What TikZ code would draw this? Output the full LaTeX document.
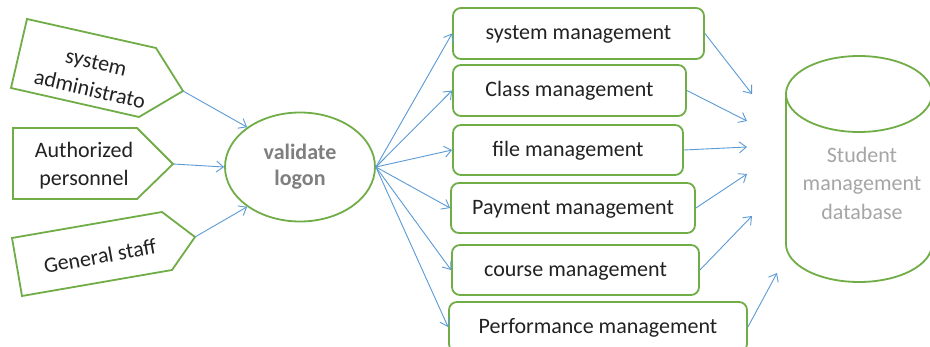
\documentclass[tikz,border=0pt]{standalone}
\usepackage{fontspec}
\setmainfont{Carlito}
\usetikzlibrary{arrows.meta,shapes.geometric}
\definecolor{offgreen}{HTML}{70AD47}
\definecolor{offblue}{HTML}{5B9BD5}
\definecolor{txtdark}{HTML}{222222}
\definecolor{txtgray}{HTML}{7F7F7F}
\definecolor{txtlight}{HTML}{A6A6A6}
\begin{document}
\begin{tikzpicture}[x=1pt,y=-1pt,
  greenline/.style={draw=offgreen,line width=1.8pt,line join=miter},
  modbox/.style={greenline,rounded corners=8pt,inner sep=0pt,fill=white,
     text=txtdark,font=\fontsize{22}{27}\selectfont,text height=16.5pt,text depth=4pt},
  lbl/.style={inner sep=0pt,align=center,text=txtdark,font=\fontsize{22}{28}\selectfont},
  conn/.style={draw=offblue,line width=0.9pt,-{Straight Barb[length=7pt,width=11pt]}}]
\useasboundingbox (0,0) rectangle (930,347);
\clip (0,0) rectangle (930,347);
\fill[white] (0,0) rectangle (930,347);

% left pentagons
\draw[greenline] (27,19) -- (156,48) -- (183,91) coordinate (p1) -- (139,117) -- (11,88) -- cycle;
\node[lbl,rotate=-13] (t1) at (93,76) {system\\administrato};
\draw[greenline] (13,128) -- (137,128) -- (173,164) coordinate (p2) -- (137,199) -- (13,199) -- cycle;
\node[lbl] (t2) at (84,166) {Authorized\\personnel};
\draw[greenline] (12,238) -- (162,212) -- (195,237) coordinate (p3) -- (172,270) -- (22,296) -- cycle;
\node[lbl,rotate=10] (t3) at (100,256) {General staff};

% ellipse
\node[ellipse,greenline,minimum width=150pt,minimum height=109pt,inner sep=0pt,
  text=txtgray,align=center,font=\bfseries\fontsize{22}{26}\selectfont] (val) at (300,167) {validate\\logon};

% module boxes
\node[modbox,minimum width=251pt,minimum height=51pt] (b1) at (578.5,33.5) {system management};
\node[modbox,minimum width=233pt,minimum height=51pt] (b2) at (569.5,90.5) {Class management};
\node[modbox,minimum width=230pt,minimum height=50pt] (b3) at (568,150) {file management};
\node[modbox,minimum width=244pt,minimum height=50pt] (b4) at (573,208) {Payment management};
\node[modbox,minimum width=247pt,minimum height=50pt] (b5) at (575.5,270) {course management};
\node[modbox,minimum width=298pt,minimum height=50pt] (b6) at (598,327) {Performance management};

% database cylinder
\draw[greenline] (786,94) -- (786,244) arc[start angle=180,end angle=360,x radius=73pt,y radius=38pt] -- (932,94);
\draw[greenline] (859,94) ellipse[x radius=73pt,y radius=38pt];
\node[inner sep=0pt,align=center,text=txtlight,font=\fontsize{22}{28.5}\selectfont] (db) at (862,183) {Student\\management\\database};

% arrow ends near database
\coordinate (d1) at (752,94);
\coordinate (d2) at (747,121);
\coordinate (d3) at (747,147);
\coordinate (d4) at (747,174);
\coordinate (d5) at (752,216);
\coordinate (d6) at (777,273);

% connectors
\draw[conn] (p1) -- (val.143);
\draw[conn] (p2) -- (val.west);
\draw[conn] (p3) -- (val.217);
\foreach \b in {b1,b2,b3,b4,b5,b6}{\draw[conn] (val.east) -- (\b.west);}
\draw[conn] (b1.east) -- (d1);
\draw[conn] (b2.east) -- (d2);
\draw[conn] (b3.east) -- (d3);
\draw[conn] (b4.east) -- (d4);
\draw[conn] (b5.east) -- (d5);
\draw[conn] (b6.east) -- (d6);
\end{tikzpicture}
\end{document}
